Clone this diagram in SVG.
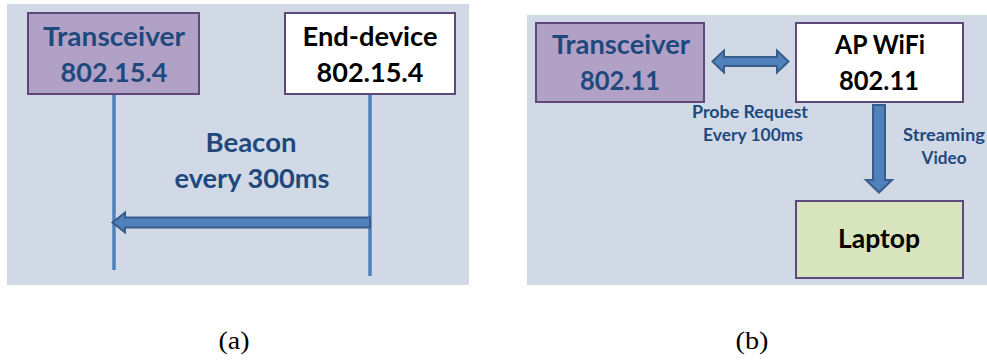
<svg xmlns="http://www.w3.org/2000/svg" width="987" height="360" viewBox="0 0 987 360">
  <style>
    .panel { fill: #d1d9e7; }
    .box { stroke: #5f497a; stroke-width: 2; }
    .purple { fill: #b2a1c7; }
    .white { fill: #ffffff; }
    .green { fill: #d7e4bd; }
    .big { font-family: Lato, "Liberation Sans", sans-serif; font-weight: bold; font-size: 26px; text-anchor: middle; }
    .small { font-family: Lato, "Liberation Sans", sans-serif; font-weight: bold; font-size: 16.5px; text-anchor: middle; fill: #1f497d; }
    .blue { fill: #1f497d; }
    .black { fill: #000000; }
    .life { stroke: #4f81bd; stroke-width: 3.5; fill: none; }
    .arrow { fill: #4f81bd; stroke: #385d8a; stroke-width: 2; stroke-linejoin: miter; }
    .caption { font-family: "Liberation Serif", "DejaVu Serif", serif; font-size: 25px; text-anchor: middle; fill: #000000; }
  </style>

  <!-- backgrounds of both panels -->
  <rect class="panel" x="7" y="4" width="462" height="281"/>
  <rect class="panel" x="527" y="15" width="460" height="270"/>

  <!-- (a) 802.15.4 beacon exchange -->
  <g id="a-transceiver">
    <rect class="box purple" x="28" y="13" width="171" height="81"/>
    <text class="big blue" x="114" y="46" textLength="142" lengthAdjust="spacingAndGlyphs">Transceiver</text>
    <text class="big blue" x="114" y="82" textLength="107" lengthAdjust="spacingAndGlyphs">802.15.4</text>
  </g>
  <g id="a-end-device">
    <rect class="box white" x="285" y="13" width="170" height="81"/>
    <text class="big black" x="370" y="46" textLength="135" lengthAdjust="spacingAndGlyphs">End-device</text>
    <text class="big black" x="370" y="82" textLength="107" lengthAdjust="spacingAndGlyphs">802.15.4</text>
  </g>
  <g id="a-beacon-label">
    <text class="big blue" x="251" y="152" textLength="91" lengthAdjust="spacingAndGlyphs">Beacon</text>
    <text class="big blue" x="252" y="188" textLength="155" lengthAdjust="spacingAndGlyphs">every 300ms</text>
  </g>

  <!-- (b) 802.11 probe / streaming -->
  <g id="b-transceiver">
    <rect class="box purple" x="536" y="23" width="168" height="79"/>
    <text class="big blue" x="621" y="54" textLength="138" lengthAdjust="spacingAndGlyphs">Transceiver</text>
    <text class="big blue" x="620" y="90" textLength="80" lengthAdjust="spacingAndGlyphs">802.11</text>
  </g>
  <g id="b-ap-wifi">
    <rect class="box white" x="796" y="23" width="167" height="79"/>
    <text class="big black" x="880" y="54" textLength="90" lengthAdjust="spacingAndGlyphs">AP WiFi</text>
    <text class="big black" x="879" y="90" textLength="80" lengthAdjust="spacingAndGlyphs">802.11</text>
  </g>
  <g id="b-laptop">
    <rect class="box green" x="796" y="201" width="167" height="77"/>
    <text class="big black" x="879" y="248" textLength="82" lengthAdjust="spacingAndGlyphs">Laptop</text>
  </g>
  <g id="b-labels">
    <text class="small" x="750" y="118" textLength="116" lengthAdjust="spacingAndGlyphs">Probe Request</text>
    <text class="small" x="753" y="141" textLength="100" lengthAdjust="spacingAndGlyphs">Every 100ms</text>
    <text class="small" x="944" y="141" textLength="82" lengthAdjust="spacingAndGlyphs">Streaming</text>
    <text class="small" x="944" y="164" textLength="45" lengthAdjust="spacingAndGlyphs">Video</text>
  </g>

  <!-- connectors -->
  <g id="connectors">
    <line class="life" x1="114" y1="95" x2="114" y2="270"/>
    <line class="life" x1="370" y1="95" x2="370" y2="276"/>
    <polygon class="arrow" points="370,217.5 125,217.5 125,212.5 112.5,222.5 125,232.5 125,227.5 370,227.5"/>
    <polygon class="arrow" points="712.5,61.5 724,50.5 724,57 777,57 777,50.5 788.5,61.5 777,72.5 777,66 724,66 724,72.5"/>
    <polygon class="arrow" points="873,105 885,105 885,180 892,180 879,192.5 866,180 873,180"/>
  </g>

  <!-- captions -->
  <text class="caption" x="234" y="349" textLength="31" lengthAdjust="spacingAndGlyphs">(a)</text>
  <text class="caption" x="752" y="349" textLength="33" lengthAdjust="spacingAndGlyphs">(b)</text>
</svg>
